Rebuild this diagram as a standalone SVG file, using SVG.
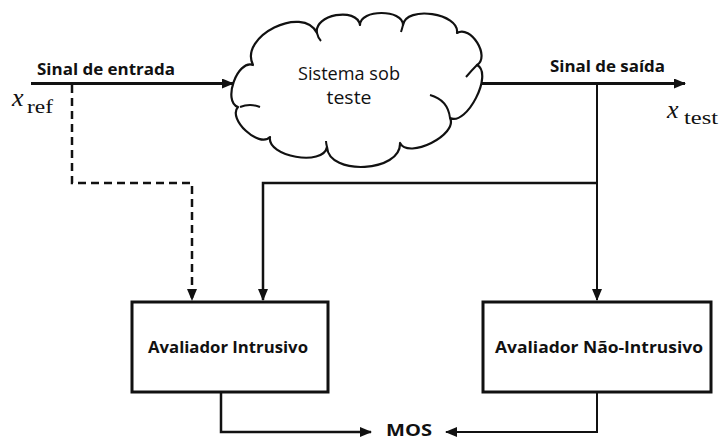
<svg xmlns="http://www.w3.org/2000/svg" width="719" height="440" viewBox="0 0 719 440">
  <style>
    .lbl { font-family: "Open Sans", "Liberation Sans", sans-serif; font-weight: 700; fill: #111; }
    .txt { font-family: "Open Sans", "Liberation Sans", sans-serif; fill: #111; }
    .math { font-family: "Liberation Serif", "DejaVu Serif", serif; fill: #111; }
    .box { fill: #fff; stroke: #111; stroke-width: 3; }
    .wire { fill: none; stroke: #111; stroke-linejoin: miter; }
    .cloud { fill: #fff; stroke: #111; stroke-width: 2.2; stroke-linejoin: round; }
  </style>
  <defs>
    <marker id="arrow" viewBox="0 0 12 10" refX="11" refY="5" markerWidth="12" markerHeight="10" markerUnits="userSpaceOnUse" orient="auto">
      <path d="M0,0 L12,5 L0,10 z" fill="#111"/>
    </marker>
  </defs>
  <rect width="719" height="440" fill="#fff"/>

  <!-- signal paths -->
  <g id="connectors">
    <path class="wire" d="M31,83.5 H233" stroke-width="3" marker-end="url(#arrow)"/>
    <path class="wire" d="M480,83.5 H685" stroke-width="3" marker-end="url(#arrow)"/>
    <path class="wire" d="M597,83 V300" stroke-width="2" marker-end="url(#arrow)"/>
    <path class="wire" d="M597,183 H263 V300" stroke-width="2.5" marker-end="url(#arrow)"/>
    <path class="wire" d="M72,85 V183 H192 V300" stroke-width="2.5" stroke-dasharray="8 5" marker-end="url(#arrow)"/>
    <path class="wire" d="M221,392 V432 H371" stroke-width="2.5" marker-end="url(#arrow)"/>
    <path class="wire" d="M597,392 V432 H446" stroke-width="2" marker-end="url(#arrow)"/>
  </g>

  <!-- system under test -->
  <g id="system">
    <path class="cloud" d="M238,107
      C222.3,101.4 237.3,59.4 253,65
      C238.7,36.4 302.7,4.4 317,33
      C313.6,14.6 356.6,6.6 360,25
      C360,9 403,9 403,25
      C405.9,5.2 459.9,13.2 457,33
      C470.6,24.5 490.6,56.5 477,65
      C493.7,73.5 466.7,126.5 450,118
      C458.4,134.7 408.4,159.7 400,143
      C401.6,172.2 328.6,176.2 327,147
      C323.5,166.7 266.5,156.7 270,137
      C259.1,148.7 227.1,118.7 238,107 Z"/>
    <path class="wire" stroke-width="2" d="M240,107 Q250,103 260,107"/>
    <path class="wire" stroke-width="2" d="M430,95 Q448,100 450,118"/>
    <path class="wire" stroke-width="2" d="M317,33 Q318,38 321,41"/>
    <path class="wire" stroke-width="2" d="M403,25 Q402,29 401,32"/>
    <path class="wire" stroke-width="2" d="M477,65 Q472,70 466,77"/>
    <path class="wire" stroke-width="2" d="M327,147 Q326,143 326,141"/>
    <text class="txt" x="349" y="80" font-size="18" text-anchor="middle" textLength="102" lengthAdjust="spacingAndGlyphs">Sistema sob</text>
    <text class="txt" x="349" y="104" font-size="18" text-anchor="middle" textLength="45" lengthAdjust="spacingAndGlyphs">teste</text>
  </g>

  <g id="input-label">
    <text class="lbl" x="37" y="75" font-size="16" textLength="138" lengthAdjust="spacingAndGlyphs">Sinal de entrada</text>
    <text class="math" x="12" y="106" font-size="26" font-style="italic">x</text>
    <text class="math" x="27" y="113" font-size="19" textLength="26" lengthAdjust="spacingAndGlyphs">ref</text>
  </g>

  <g id="output-label">
    <text class="lbl" x="550" y="72" font-size="16" textLength="115" lengthAdjust="spacingAndGlyphs">Sinal de saída</text>
    <text class="math" x="667" y="118" font-size="26" font-style="italic">x</text>
    <text class="math" x="684" y="124" font-size="19" textLength="34" lengthAdjust="spacingAndGlyphs">test</text>
  </g>

  <g id="intrusive">
    <rect class="box" x="132" y="302" width="196" height="90"/>
    <text class="lbl" x="228" y="353" font-size="16" text-anchor="middle" textLength="160" lengthAdjust="spacingAndGlyphs">Avaliador Intrusivo</text>
  </g>

  <g id="nonintrusive">
    <rect class="box" x="483" y="302" width="228" height="90"/>
    <text class="lbl" x="599" y="353" font-size="16" text-anchor="middle" font-weight="600" textLength="208" lengthAdjust="spacingAndGlyphs">Avaliador Não-Intrusivo</text>
  </g>

  <g id="mos">
    <text class="lbl" x="409" y="436" font-size="16" text-anchor="middle" textLength="46" lengthAdjust="spacingAndGlyphs">MOS</text>
  </g>
</svg>
